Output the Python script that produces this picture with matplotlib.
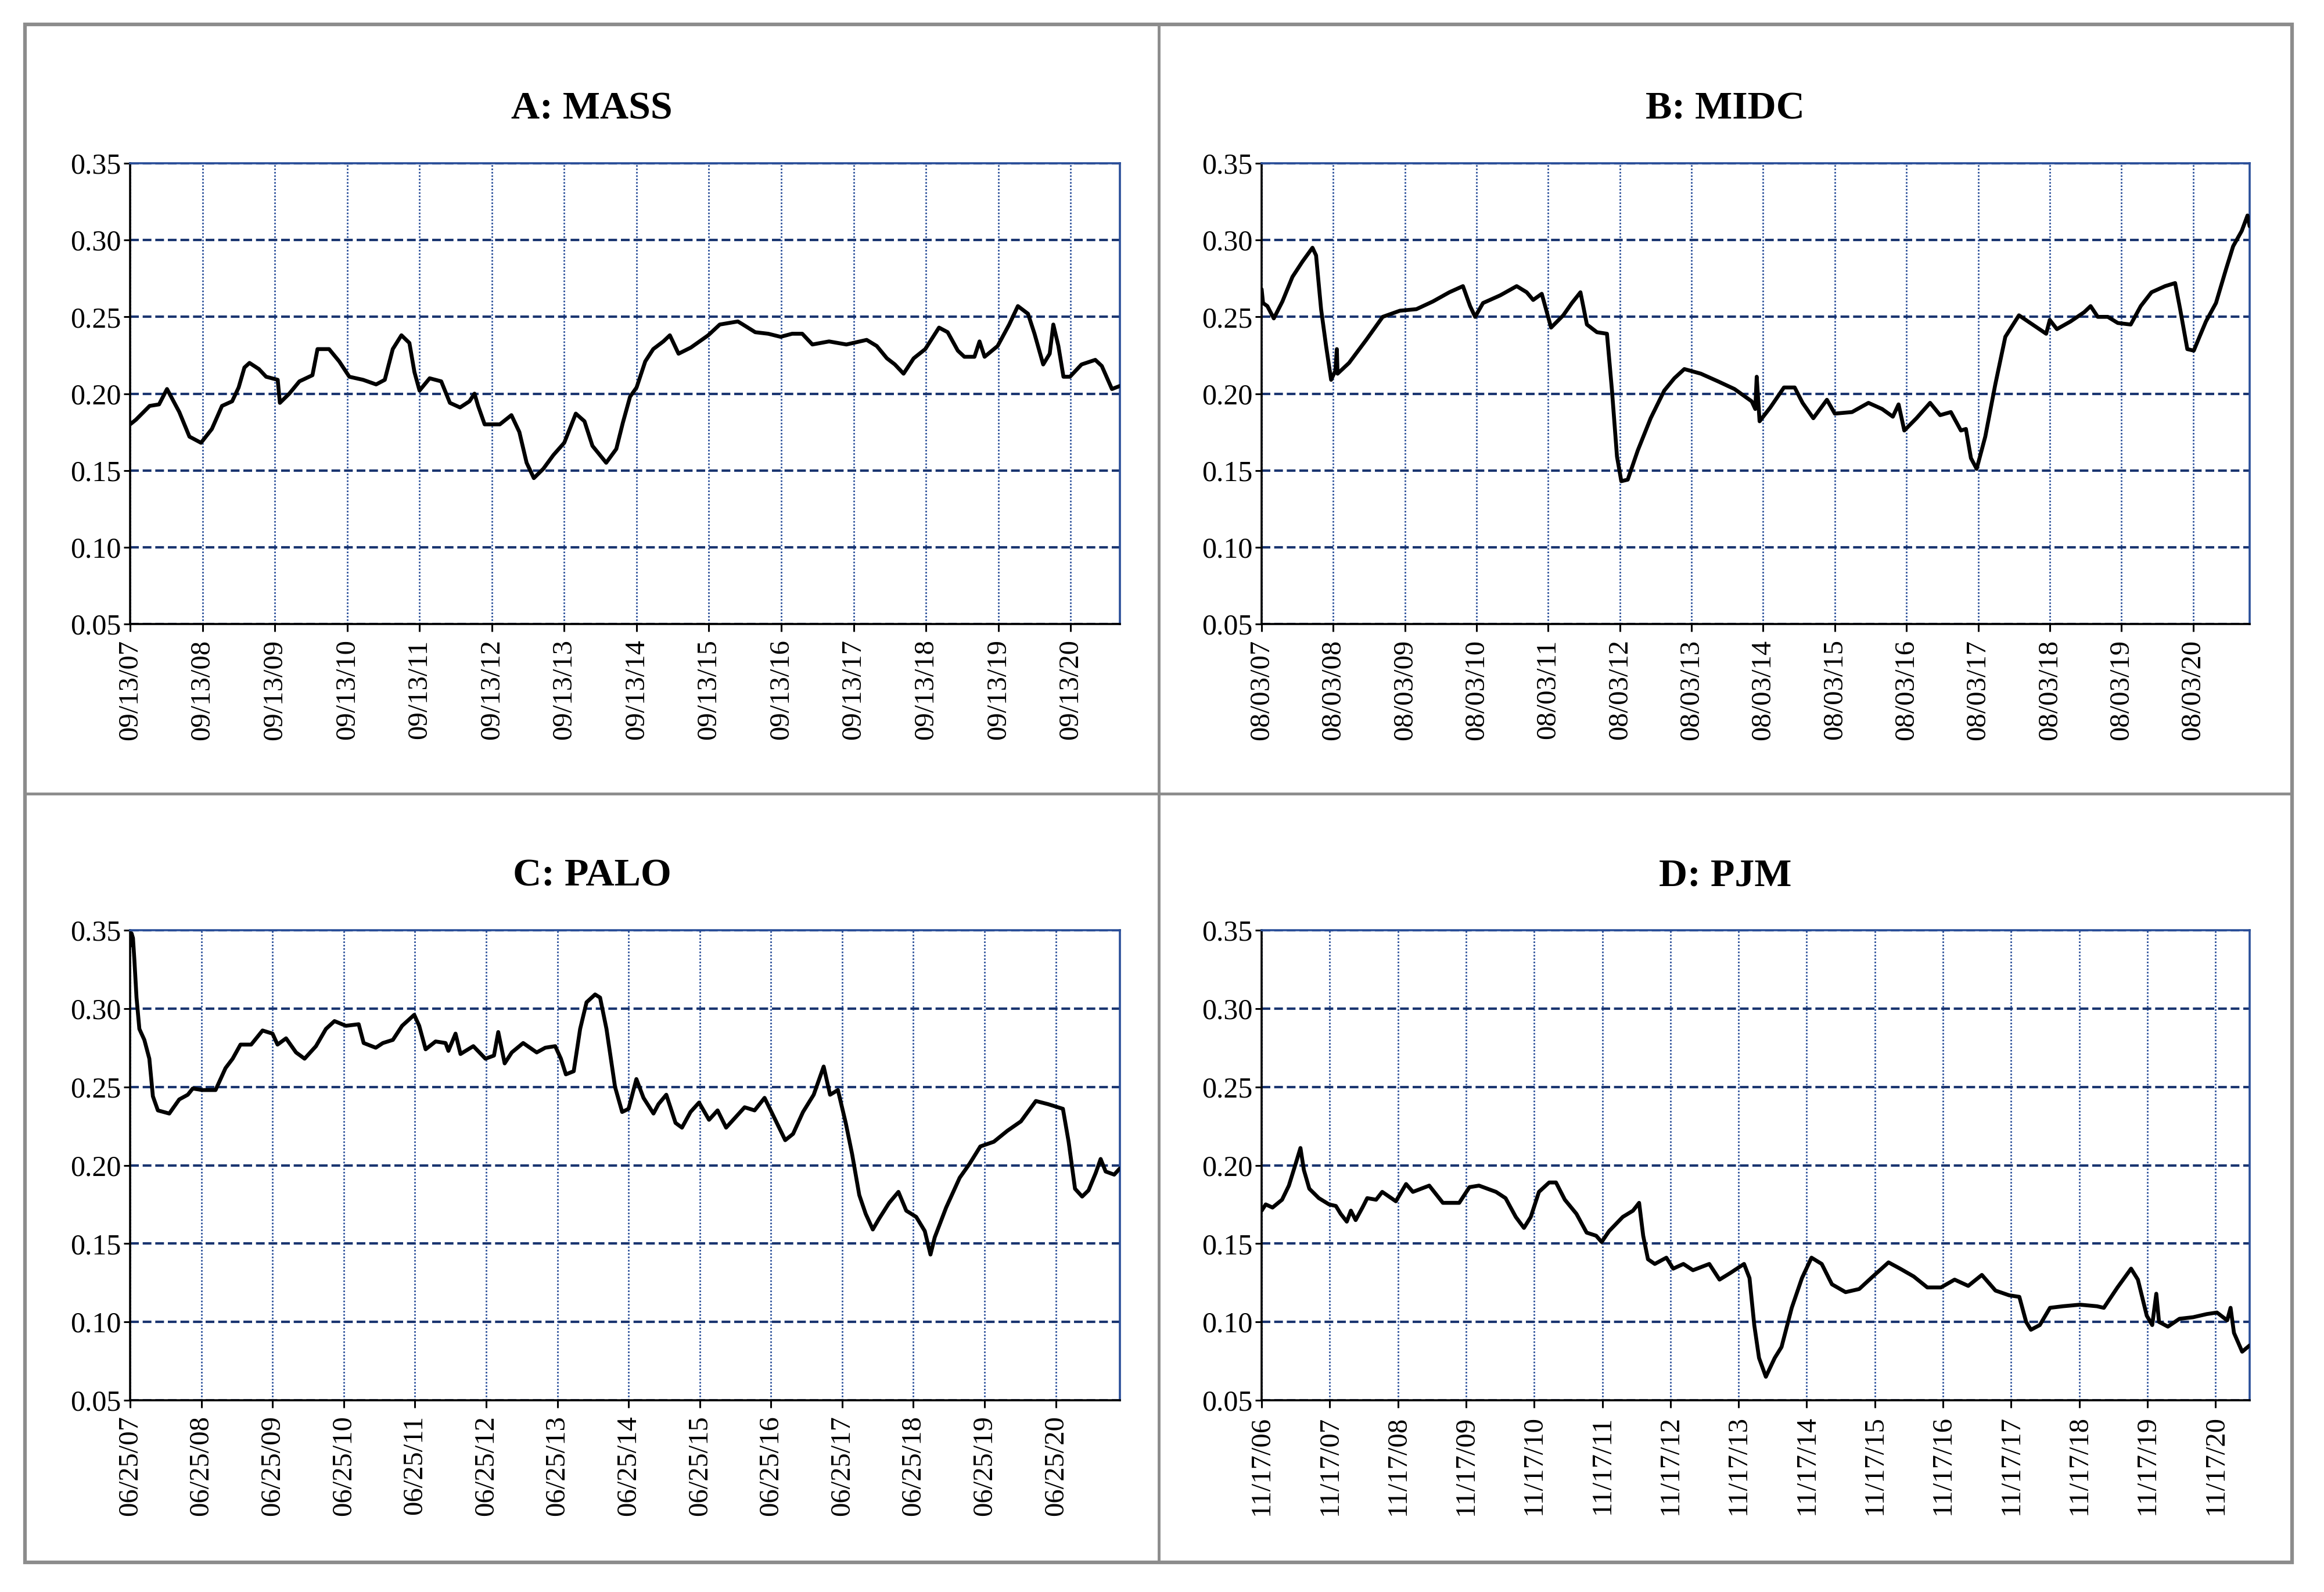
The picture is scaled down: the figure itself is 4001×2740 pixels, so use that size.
import matplotlib
matplotlib.use("Agg")
import matplotlib.pyplot as plt
from matplotlib.lines import Line2D
from matplotlib.patches import Rectangle

plt.rcParams['font.family'] = ['Liberation Serif', 'DejaVu Serif']

# ---------------- data (t = years since first tick date) ----------------
mass_pts = [(0.00, 0.180), (0.08, 0.183), (0.27, 0.192), (0.40, 0.193), (0.51, 0.203), (0.68, 0.188),
            (0.82, 0.172), (0.98, 0.168), (1.13, 0.177), (1.27, 0.192), (1.41, 0.195), (1.50, 0.204),
            (1.58, 0.217), (1.65, 0.220), (1.78, 0.216), (1.88, 0.211), (2.04, 0.209), (2.07, 0.194),
            (2.20, 0.200), (2.34, 0.208), (2.52, 0.212), (2.59, 0.229), (2.75, 0.229), (2.89, 0.221),
            (3.03, 0.211), (3.22, 0.209), (3.40, 0.206), (3.52, 0.209), (3.63, 0.229), (3.75, 0.238),
            (3.86, 0.233), (3.93, 0.214), (4.00, 0.202), (4.14, 0.210), (4.30, 0.208), (4.42, 0.194),
            (4.56, 0.191), (4.69, 0.195), (4.76, 0.200), (4.81, 0.192), (4.90, 0.180), (5.11, 0.180),
            (5.27, 0.186), (5.38, 0.175), (5.48, 0.155), (5.58, 0.145), (5.71, 0.151), (5.85, 0.160),
            (6.00, 0.168), (6.16, 0.187), (6.28, 0.182), (6.39, 0.166), (6.58, 0.155), (6.72, 0.164),
            (6.81, 0.181), (6.91, 0.198), (7.00, 0.204), (7.12, 0.221), (7.23, 0.229), (7.37, 0.234),
            (7.46, 0.238), (7.58, 0.226), (7.75, 0.230), (7.99, 0.238), (8.15, 0.245), (8.40, 0.247),
            (8.47, 0.245), (8.64, 0.240), (8.82, 0.239), (8.99, 0.237), (9.15, 0.239), (9.29, 0.239),
            (9.43, 0.232), (9.66, 0.234), (9.90, 0.232), (10.18, 0.235), (10.32, 0.231), (10.46, 0.223),
            (10.57, 0.219), (10.69, 0.213), (10.83, 0.223), (10.99, 0.229), (11.18, 0.243), (11.30, 0.240),
            (11.44, 0.228), (11.53, 0.224), (11.67, 0.224), (11.74, 0.234), (11.81, 0.224), (11.99, 0.231),
            (12.15, 0.245), (12.27, 0.257), (12.41, 0.252), (12.50, 0.239), (12.62, 0.219), (12.71, 0.226),
            (12.76, 0.245), (12.83, 0.231), (12.90, 0.211), (12.99, 0.211), (13.15, 0.219), (13.34, 0.222),
            (13.43, 0.218), (13.57, 0.203), (13.68, 0.205)]

midc_pts = [(0.00, 0.268), (0.02, 0.259), (0.08, 0.257), (0.17, 0.249), (0.29, 0.260), (0.43, 0.276),
            (0.57, 0.286), (0.71, 0.295), (0.76, 0.290), (0.83, 0.255), (0.90, 0.231), (0.97, 0.209),
            (1.03, 0.215), (1.05, 0.229), (1.06, 0.213), (1.22, 0.220), (1.46, 0.235), (1.69, 0.250),
            (1.93, 0.254), (2.16, 0.255), (2.39, 0.260), (2.62, 0.266), (2.81, 0.270), (2.91, 0.257),
            (2.98, 0.250), (3.09, 0.259), (3.33, 0.264), (3.56, 0.270), (3.70, 0.266), (3.79, 0.261),
            (3.91, 0.265), (4.04, 0.243), (4.21, 0.251), (4.33, 0.259), (4.45, 0.266), (4.54, 0.245),
            (4.68, 0.240), (4.82, 0.239), (4.89, 0.202), (4.96, 0.159), (5.02, 0.143), (5.11, 0.144),
            (5.25, 0.163), (5.43, 0.184), (5.62, 0.202), (5.76, 0.210), (5.90, 0.216), (6.13, 0.213),
            (6.37, 0.208), (6.60, 0.203), (6.84, 0.195), (6.89, 0.190), (6.91, 0.211), (6.95, 0.182),
            (7.10, 0.191), (7.29, 0.204), (7.44, 0.204), (7.55, 0.194), (7.70, 0.184), (7.89, 0.196),
            (8.00, 0.187), (8.24, 0.188), (8.47, 0.194), (8.66, 0.190), (8.81, 0.185), (8.89, 0.193),
            (8.97, 0.176), (9.14, 0.184), (9.33, 0.194), (9.47, 0.186), (9.62, 0.188), (9.76, 0.176),
            (9.83, 0.177), (9.90, 0.158), (9.98, 0.151), (10.10, 0.172), (10.24, 0.206), (10.38, 0.237),
            (10.57, 0.251), (10.76, 0.245), (10.95, 0.239), (11.00, 0.248), (11.10, 0.242), (11.29, 0.247),
            (11.48, 0.253), (11.57, 0.257), (11.67, 0.250), (11.81, 0.250), (11.95, 0.246), (12.13, 0.245),
            (12.27, 0.257), (12.42, 0.266), (12.61, 0.270), (12.75, 0.272), (12.82, 0.255), (12.92, 0.229),
            (13.01, 0.228), (13.09, 0.237), (13.18, 0.247), (13.32, 0.259), (13.46, 0.281), (13.56, 0.296),
            (13.68, 0.306), (13.76, 0.316), (13.79, 0.309)]

palo_pts = [(0.00, 0.340), (0.02, 0.348), (0.04, 0.345), (0.06, 0.331), (0.09, 0.307), (0.13, 0.287),
            (0.20, 0.280), (0.27, 0.268), (0.32, 0.244), (0.39, 0.235), (0.55, 0.233), (0.69, 0.242),
            (0.81, 0.245), (0.88, 0.249), (1.01, 0.248), (1.20, 0.248), (1.34, 0.262), (1.44, 0.268),
            (1.55, 0.277), (1.70, 0.277), (1.86, 0.286), (2.00, 0.284), (2.07, 0.277), (2.19, 0.281),
            (2.33, 0.272), (2.45, 0.268), (2.61, 0.276), (2.75, 0.287), (2.87, 0.292), (3.03, 0.289),
            (3.21, 0.290), (3.28, 0.278), (3.45, 0.275), (3.55, 0.278), (3.69, 0.280), (3.82, 0.289),
            (3.99, 0.296), (4.06, 0.289), (4.15, 0.274), (4.29, 0.279), (4.43, 0.278), (4.47, 0.273),
            (4.57, 0.284), (4.64, 0.271), (4.82, 0.276), (4.99, 0.268), (5.11, 0.270), (5.17, 0.285),
            (5.26, 0.265), (5.36, 0.272), (5.52, 0.278), (5.71, 0.272), (5.83, 0.275), (5.97, 0.276),
            (6.05, 0.268), (6.12, 0.258), (6.23, 0.260), (6.32, 0.287), (6.41, 0.304), (6.53, 0.309),
            (6.60, 0.307), (6.69, 0.287), (6.81, 0.250), (6.91, 0.234), (7.00, 0.236), (7.11, 0.255),
            (7.21, 0.243), (7.35, 0.233), (7.42, 0.239), (7.53, 0.245), (7.66, 0.227), (7.75, 0.224),
            (7.87, 0.234), (7.99, 0.240), (8.13, 0.229), (8.25, 0.235), (8.37, 0.224), (8.51, 0.231),
            (8.63, 0.237), (8.77, 0.235), (8.91, 0.243), (9.05, 0.230), (9.20, 0.216), (9.31, 0.220),
            (9.45, 0.234), (9.60, 0.245), (9.74, 0.263), (9.83, 0.245), (9.94, 0.248), (10.05, 0.227),
            (10.14, 0.207), (10.24, 0.181), (10.33, 0.169), (10.43, 0.159), (10.52, 0.166), (10.66, 0.176),
            (10.79, 0.183), (10.90, 0.171), (11.04, 0.167), (11.16, 0.158), (11.24, 0.143), (11.30, 0.154),
            (11.46, 0.173), (11.65, 0.192), (11.79, 0.201), (11.94, 0.212), (12.13, 0.215), (12.32, 0.222),
            (12.51, 0.228), (12.72, 0.241), (12.89, 0.239), (13.10, 0.236), (13.18, 0.215), (13.27, 0.185),
            (13.37, 0.180), (13.46, 0.184), (13.56, 0.195), (13.63, 0.204), (13.70, 0.196), (13.82, 0.194),
            (13.90, 0.198)]

pjm_pts = [(0.00, 0.171), (0.06, 0.175), (0.16, 0.173), (0.30, 0.178), (0.40, 0.187), (0.50, 0.201),
           (0.57, 0.211), (0.62, 0.197), (0.70, 0.185), (0.84, 0.179), (0.99, 0.175), (1.09, 0.174),
           (1.16, 0.169), (1.25, 0.164), (1.31, 0.171), (1.38, 0.165), (1.48, 0.173), (1.55, 0.179),
           (1.68, 0.178), (1.77, 0.183), (1.97, 0.177), (2.12, 0.188), (2.22, 0.183), (2.46, 0.187),
           (2.66, 0.176), (2.90, 0.176), (3.05, 0.186), (3.19, 0.187), (3.44, 0.183), (3.58, 0.179),
           (3.73, 0.167), (3.85, 0.160), (3.95, 0.167), (4.07, 0.183), (4.22, 0.189), (4.32, 0.189),
           (4.45, 0.178), (4.62, 0.169), (4.77, 0.157), (4.91, 0.155), (4.99, 0.151), (5.10, 0.158),
           (5.30, 0.167), (5.45, 0.171), (5.54, 0.176), (5.60, 0.155), (5.67, 0.140), (5.77, 0.137),
           (5.94, 0.141), (6.04, 0.134), (6.19, 0.137), (6.33, 0.133), (6.57, 0.137), (6.72, 0.127),
           (6.87, 0.131), (7.08, 0.137), (7.16, 0.128), (7.23, 0.098), (7.30, 0.077), (7.40, 0.065),
           (7.53, 0.077), (7.63, 0.084), (7.78, 0.109), (7.93, 0.128), (8.07, 0.141), (8.22, 0.137),
           (8.37, 0.124), (8.57, 0.119), (8.77, 0.121), (8.97, 0.129), (9.20, 0.138), (9.37, 0.134),
           (9.57, 0.129), (9.77, 0.122), (9.97, 0.122), (10.17, 0.127), (10.37, 0.123), (10.57, 0.130),
           (10.77, 0.120), (10.97, 0.117), (11.12, 0.116), (11.22, 0.100), (11.29, 0.095), (11.42, 0.098),
           (11.57, 0.109), (11.76, 0.110), (12.01, 0.111), (12.26, 0.110), (12.36, 0.109), (12.56, 0.122),
           (12.76, 0.134), (12.86, 0.127), (12.99, 0.104), (13.07, 0.098), (13.13, 0.118), (13.17, 0.100),
           (13.30, 0.097), (13.47, 0.102), (13.67, 0.103), (13.87, 0.105), (14.02, 0.106), (14.17, 0.101),
           (14.22, 0.109), (14.27, 0.093), (14.39, 0.081), (14.50, 0.085)]

titles = ["A: MASS", "B: MIDC", "C: PALO", "D: PJM"]
mass_labels = ["09/13/%02d" % y for y in range(7, 21)]
midc_labels = ["08/03/%02d" % y for y in range(7, 21)]
palo_labels = ["06/25/%02d" % y for y in range(7, 21)]
pjm_labels = ["11/17/%02d" % y for y in range(6, 21)]
x_ends = [13.68, 13.79, 13.90, 14.50]
y_ticks = [0.05, 0.10, 0.15, 0.20, 0.25, 0.30, 0.35]

series = [mass_pts, midc_pts, palo_pts, pjm_pts]
labels = [mass_labels, midc_labels, palo_labels, pjm_labels]

# ---------------- layout (pixels) ----------------
W, H = 4001, 2740
fig = plt.figure(figsize=(W / 100, H / 100), dpi=100)
fig.patch.set_facecolor('white')

def fx(px):
    return px / W

def fy(py):
    return 1 - py / H

boxes = [(224, 1928, 281, 1074), (2172, 3873, 281, 1074),
         (224, 1928, 1601, 2410), (2172, 3873, 1601, 2410)]
title_pos = [(1019, 188), (2970, 188), (1019, 1508), (2970, 1508)]

NAVY = '#1A3570'
BLUE = '#2A4F9A'

for i in range(4):
    x0, x1, y0, y1 = boxes[i]
    ax = fig.add_axes([fx(x0), fy(y1), fx(x1 - x0), (y1 - y0) / H])
    t, v = zip(*series[i])
    ax.plot(t, v, color='black', lw=4.8, solid_joinstyle='round',
            solid_capstyle='round', zorder=5)
    ax.set_xlim(0, x_ends[i])
    ax.set_ylim(0.05, 0.35)
    ax.set_yticks(y_ticks)
    ax.set_yticklabels(["%.2f" % y for y in y_ticks])
    ax.set_xticks(range(len(labels[i])))
    ax.set_xticklabels(labels[i], rotation=90)
    ax.tick_params(axis='x', direction='out', length=9, width=2.2, colors='black',
                   labelsize=35, pad=10)
    ax.tick_params(axis='y', direction='out', length=8, width=2.2, colors='black',
                   labelsize=36, pad=3)
    ax.yaxis.grid(True, color=NAVY, lw=3.0, ls=(0, (3.6, 1.6)))
    ax.xaxis.grid(True, color=BLUE, lw=2.0, ls=(0, (1, 1.1)))
    ax.set_axisbelow(True)
    for s in ['left', 'bottom']:
        ax.spines[s].set_color('black')
        ax.spines[s].set_linewidth(2.6)
    for s in ['top', 'right']:
        ax.spines[s].set_color(BLUE)
        ax.spines[s].set_linewidth(2.6)
    tx, ty = title_pos[i]
    fig.text(fx(tx), fy(ty), titles[i], ha='center', va='center',
             fontsize=49, fontweight='bold')

# panel frames
GRAY = '#8C8C8C'
L, R, T, B = 43, 3946, 42, 2689
fig.add_artist(Rectangle((fx(L), fy(B)), fx(R - L), (B - T) / H, fill=False,
                         edgecolor=GRAY, lw=4.5, transform=fig.transFigure))
fig.add_artist(Line2D([fx(1995), fx(1995)], [fy(T), fy(B)], color=GRAY, lw=3.5,
                      transform=fig.transFigure))
fig.add_artist(Line2D([fx(L), fx(R)], [fy(1366), fy(1366)], color=GRAY, lw=3.5,
                      transform=fig.transFigure))

fig.savefig('out.png', dpi=100, facecolor='white')
